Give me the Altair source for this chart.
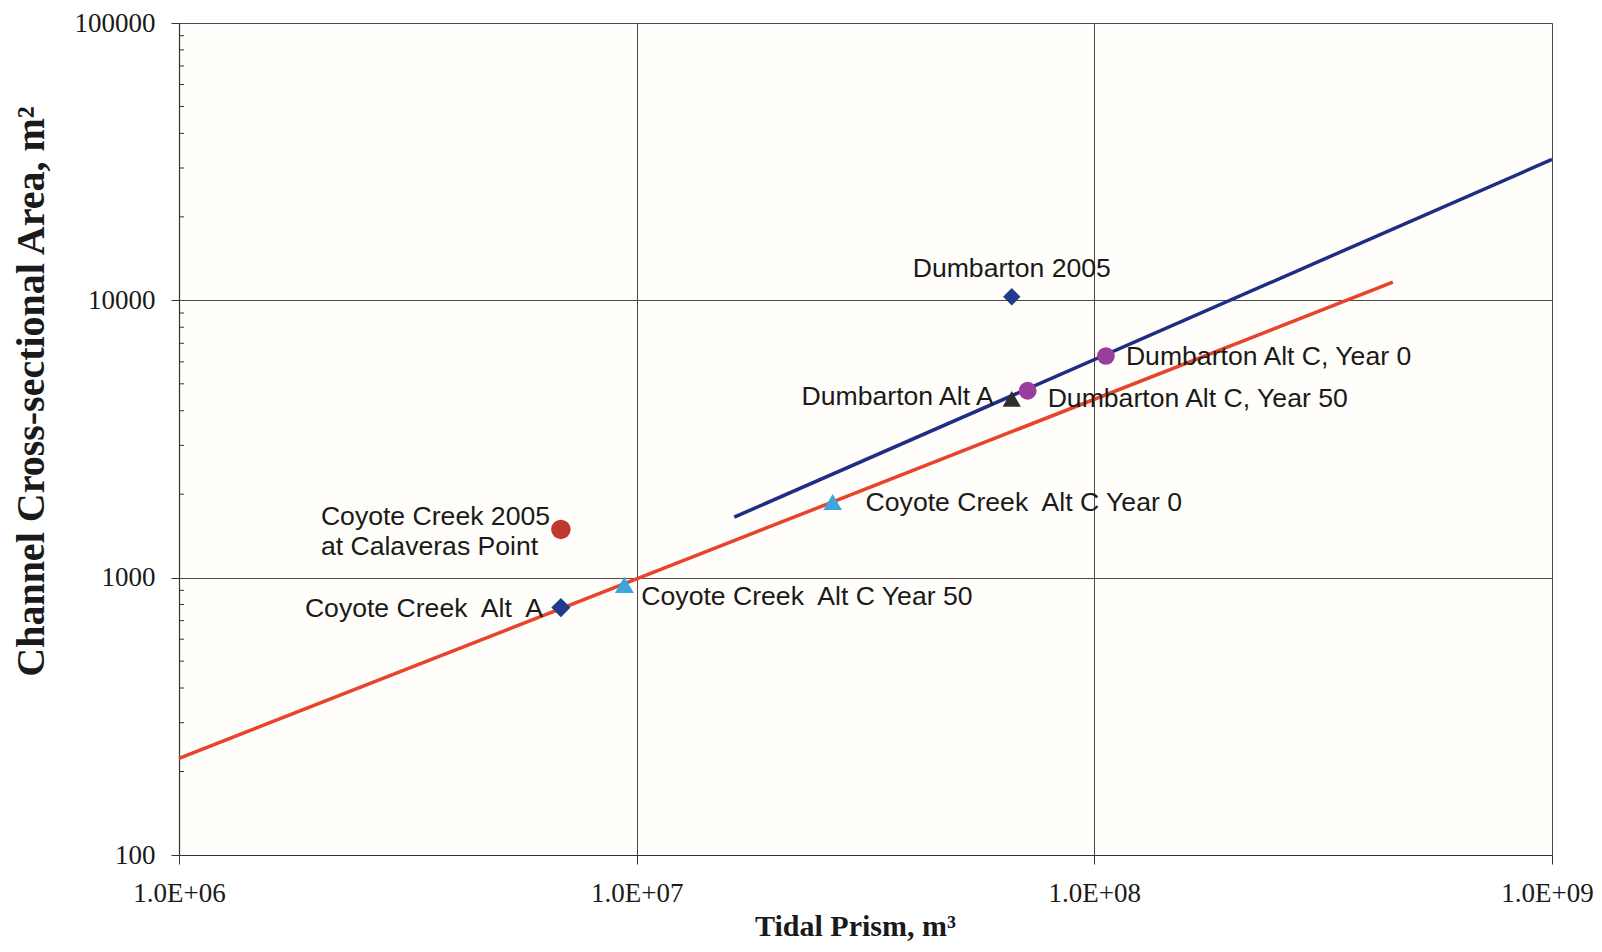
import altair as alt
import pandas as pd

# ---------------- data ----------------
point_names = [
    "Dumbarton 2005",
    "Dumbarton Alt C, Year 0",
    "Dumbarton Alt C, Year 50",
    "Dumbarton Alt A",
    "Coyote Creek\u00a0 Alt C Year 0",
    "Coyote Creek\u00a0 Alt C Year 50",
    "Coyote Creek\u00a0 Alt\u00a0 A",
    "Coyote Creek 2005\nat Calaveras Point",
]
tidal_prism = [6.6e7, 1.06e8, 7.15e7, 6.6e7, 2.68e7, 9.4e6, 6.83e6, 6.83e6]
cross_area = [10300, 6300, 4720, 4410, 1875, 942, 780, 1492]

line_series = ["Fit blue", "Fit blue", "Fit red", "Fit red"]
line_prism = [1.634e7, 1.0e9, 1.0e6, 4.49e8]
line_area = [1653, 32210, 223, 11630]

x_tick_values = [1e6, 1e7, 1e8, 1e9]
x_tick_labels = ["1.0E+06", "1.0E+07", "1.0E+08", "1.0E+09"]
y_tick_values = [100, 1000, 10000, 100000]
y_minor_ticks = [200, 300, 400, 500, 600, 700, 800, 900,
                 2000, 3000, 4000, 5000, 6000, 7000, 8000, 9000,
                 20000, 30000, 40000, 50000, 60000, 70000, 80000, 90000]

# ---------------- styles ----------------
marker_colors = ["#213c8c", "#9a3d9c", "#9a3d9c", "#2e2e2e",
                 "#3aa6dc", "#3aa6dc", "#213c8c", "#bf3a2c"]
marker_shapes = ["diamond", "circle", "circle", "triangle-up",
                 "triangle-up", "triangle-up", "diamond", "circle"]
marker_sizes = [300, 380, 380, 340, 340, 340, 300, 380]
# (align, dx, dy) per label
label_style = [
    ("center", 0, -28),
    ("left", 20, 1),
    ("left", 20, 8),
    ("right", -18, -2),
    ("left", 33, 1),
    ("left", 17, 12),
    ("right", -18, 1),
    ("left", -240, -12),
]

points = pd.DataFrame({"name": point_names, "prism": tidal_prism, "area": cross_area})
lines = pd.DataFrame({"series": line_series, "prism": line_prism, "area": line_area})
minor = pd.DataFrame({"area": y_minor_ticks})

label_expr = " : ".join(
    f"datum.value == {int(v)} ? '{l}'" for v, l in zip(x_tick_values, x_tick_labels)
) + " : ''"

x_scale = alt.Scale(type="log", domain=[1e6, 1e9], nice=False)
y_scale = alt.Scale(type="log", domain=[100, 100000], nice=False)

x_axis = alt.Axis(
    values=x_tick_values, labelExpr=label_expr, labelFlush=False, labelOverlap=False,
    labelOffset={"expr": "datum.value >= 900000000 ? -5 : 0"},
    grid=True, gridColor="#4a4a4a", gridWidth=1,
    tickSize=9, tickColor="#333", domainColor="#333", domainWidth=1.2,
    labelPadding=16, labelFont="Liberation Serif", labelFontSize=27, labelColor="#1a1a1a",
    titleFont="Liberation Serif", titleFontSize=30, titleFontWeight="bold", titleColor="#1a1a1a",
    titleX=676, titleY=80, titleBaseline="alphabetic",
)
y_axis = alt.Axis(
    values=y_tick_values, format="d", labelOverlap=False, labelFlush=False,
    grid=True, gridColor="#4a4a4a", gridWidth=1,
    tickSize=8, tickColor="#333", domainColor="#333", domainWidth=1.2,
    labelPadding=16, labelFont="Liberation Serif", labelFontSize=27, labelColor="#1a1a1a",
    titleFont="Liberation Serif", titleFontSize=40, titleFontWeight="bold", titleColor="#1a1a1a",
    titleX=-136, titleY=368, titleBaseline="alphabetic", titleAngle=270,
)

X = alt.X("prism:Q", scale=x_scale, axis=x_axis, title="Tidal Prism, m³")
Y = alt.Y("area:Q", scale=y_scale, axis=y_axis, title="Channel Cross-sectional Area, m²")

minor_layer = alt.Chart(minor).mark_rule(color="#333", strokeWidth=1).encode(
    y=Y, x=alt.value(0), x2=alt.value(5)
)

line_layer = alt.Chart(lines).mark_line(strokeWidth=3.5).encode(
    x=X, y=Y,
    color=alt.Color("series:N", scale=alt.Scale(domain=["Fit blue", "Fit red"],
                                                range=["#1f2d87", "#e8432b"]), legend=None),
    detail="series:N",
)

point_layer = alt.Chart(points).mark_point(filled=True, opacity=1, strokeWidth=0).encode(
    x=X, y=Y,
    color=alt.Color("name:N", scale=alt.Scale(domain=point_names, range=marker_colors), legend=None),
    shape=alt.Shape("name:N", scale=alt.Scale(domain=point_names, range=marker_shapes), legend=None),
    size=alt.Size("name:N", scale=alt.Scale(domain=point_names, range=marker_sizes), legend=None),
)

text_layers = []
for name, (align, dx, dy) in zip(point_names, label_style):
    text_layers.append(
        alt.Chart(points).transform_filter(
            alt.FieldEqualPredicate(field="name", equal=name)
        ).mark_text(
            align=align, baseline="middle", dx=dx, dy=dy,
            font="Liberation Sans", fontSize=26.6, color="#1a1a1a",
            lineBreak="\n", lineHeight=30,
        ).encode(x=X, y=Y, text="name:N")
    )

chart = alt.layer(minor_layer, line_layer, point_layer, *text_layers).resolve_scale(
    color="independent"
).properties(
    width=1373, height=832,
    autosize=alt.AutoSizeParams(type="none"),
    padding={"left": 171, "top": 15, "right": 42, "bottom": 89},
    background="#ffffff",
).configure_view(
    fill="#fffefa", stroke="#9a9a9a", strokeWidth=1
)

chart.save("out.html", embed_options={"renderer": "svg", "actions": False})
